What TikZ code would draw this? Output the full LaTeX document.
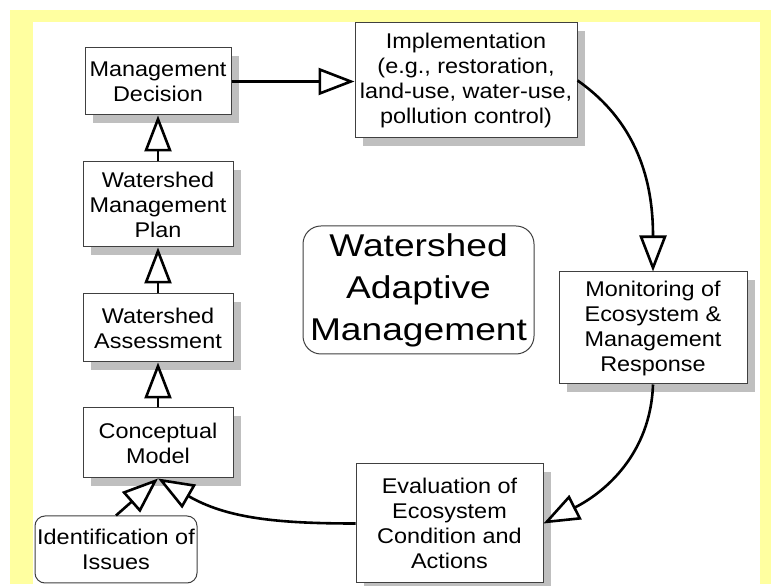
\documentclass[tikz,border=0pt]{standalone}
\usepackage{fontspec}
\setmainfont{Liberation Sans}[FakeStretch=1.10]
\newfontfamily\bigfont{Liberation Sans}[FakeStretch=1.18]
\usetikzlibrary{arrows.meta,shadows}
\definecolor{frameyellow}{RGB}{255,255,160}
\begin{document}
\begin{tikzpicture}[x=1pt,y=1pt,
  box/.style={draw=black!75, line width=1pt, fill=white, align=center, inner sep=0pt,
    font=\fontsize{21.3}{25}\selectfont,
    drop shadow={shadow xshift=8pt, shadow yshift=-8pt, fill=black!25, opacity=1}},
  rbox/.style={draw=black!75, line width=1pt, fill=white, align=center, inner sep=0pt,
    rounded corners=10pt, font=\fontsize{21.3}{25}\selectfont},
  arr/.style={line width=2.6pt, -{Triangle[open, fill=white, length=36pt, width=27pt]}}]
\useasboundingbox (0,0) rectangle (771,586);
\fill[frameyellow] (10,2) rectangle (771,576);
\fill[white] (33,0) rectangle (760,564);

\node[box, minimum width=146pt, minimum height=67pt] (md) at (158,504.5) {Management\\Decision};
\node[box, minimum width=150pt, minimum height=85pt] (wmp) at (158,381.5) {Watershed\\Management\\Plan};
\node[box, minimum width=150pt, minimum height=68pt] (wa) at (158,258) {Watershed\\Assessment};
\node[box, minimum width=150pt, minimum height=70pt] (cm) at (158,143) {Conceptual\\Model};
\node[rbox, minimum width=162pt, minimum height=67pt] (id) at (116,36.5) {Identification of\\Issues};
\node[box, minimum width=187pt, minimum height=119pt] (ev) at (449.5,62.5) {Evaluation of\\Ecosystem\\Condition and\\Actions};
\node[box, minimum width=222pt, minimum height=115pt] (im) at (466,505.5) {Implementation\\(e.g., restoration,\\land-use, water-use,\\pollution control)};
\node[box, minimum width=188pt, minimum height=112pt] (mo) at (653,258) {Monitoring of\\Ecosystem \&\\Management\\Response};
\node[rbox, rounded corners=18pt, minimum width=231pt, minimum height=128pt,
  font=\bigfont\fontsize{31.5}{42}\selectfont] (wam) at (418.5,296) {Watershed\\Adaptive\\Management};

\draw[arr] (wmp.north) -- (md.south);
\draw[arr] (wa.north) -- (wmp.south);
\draw[arr] (cm.north) -- (wa.south);
\draw[arr] (md.east) -- (md.east -| im.west);
\draw[arr] (im.east) to[out=-35, in=90] (mo.north);
\draw[arr] (mo.south) to[out=-92, in=27] (ev.east);
\draw[arr] (ev.west) to[out=180, in=-30] (cm.south);
\draw[arr] (id.north) -- (cm.south);
\end{tikzpicture}
\end{document}
